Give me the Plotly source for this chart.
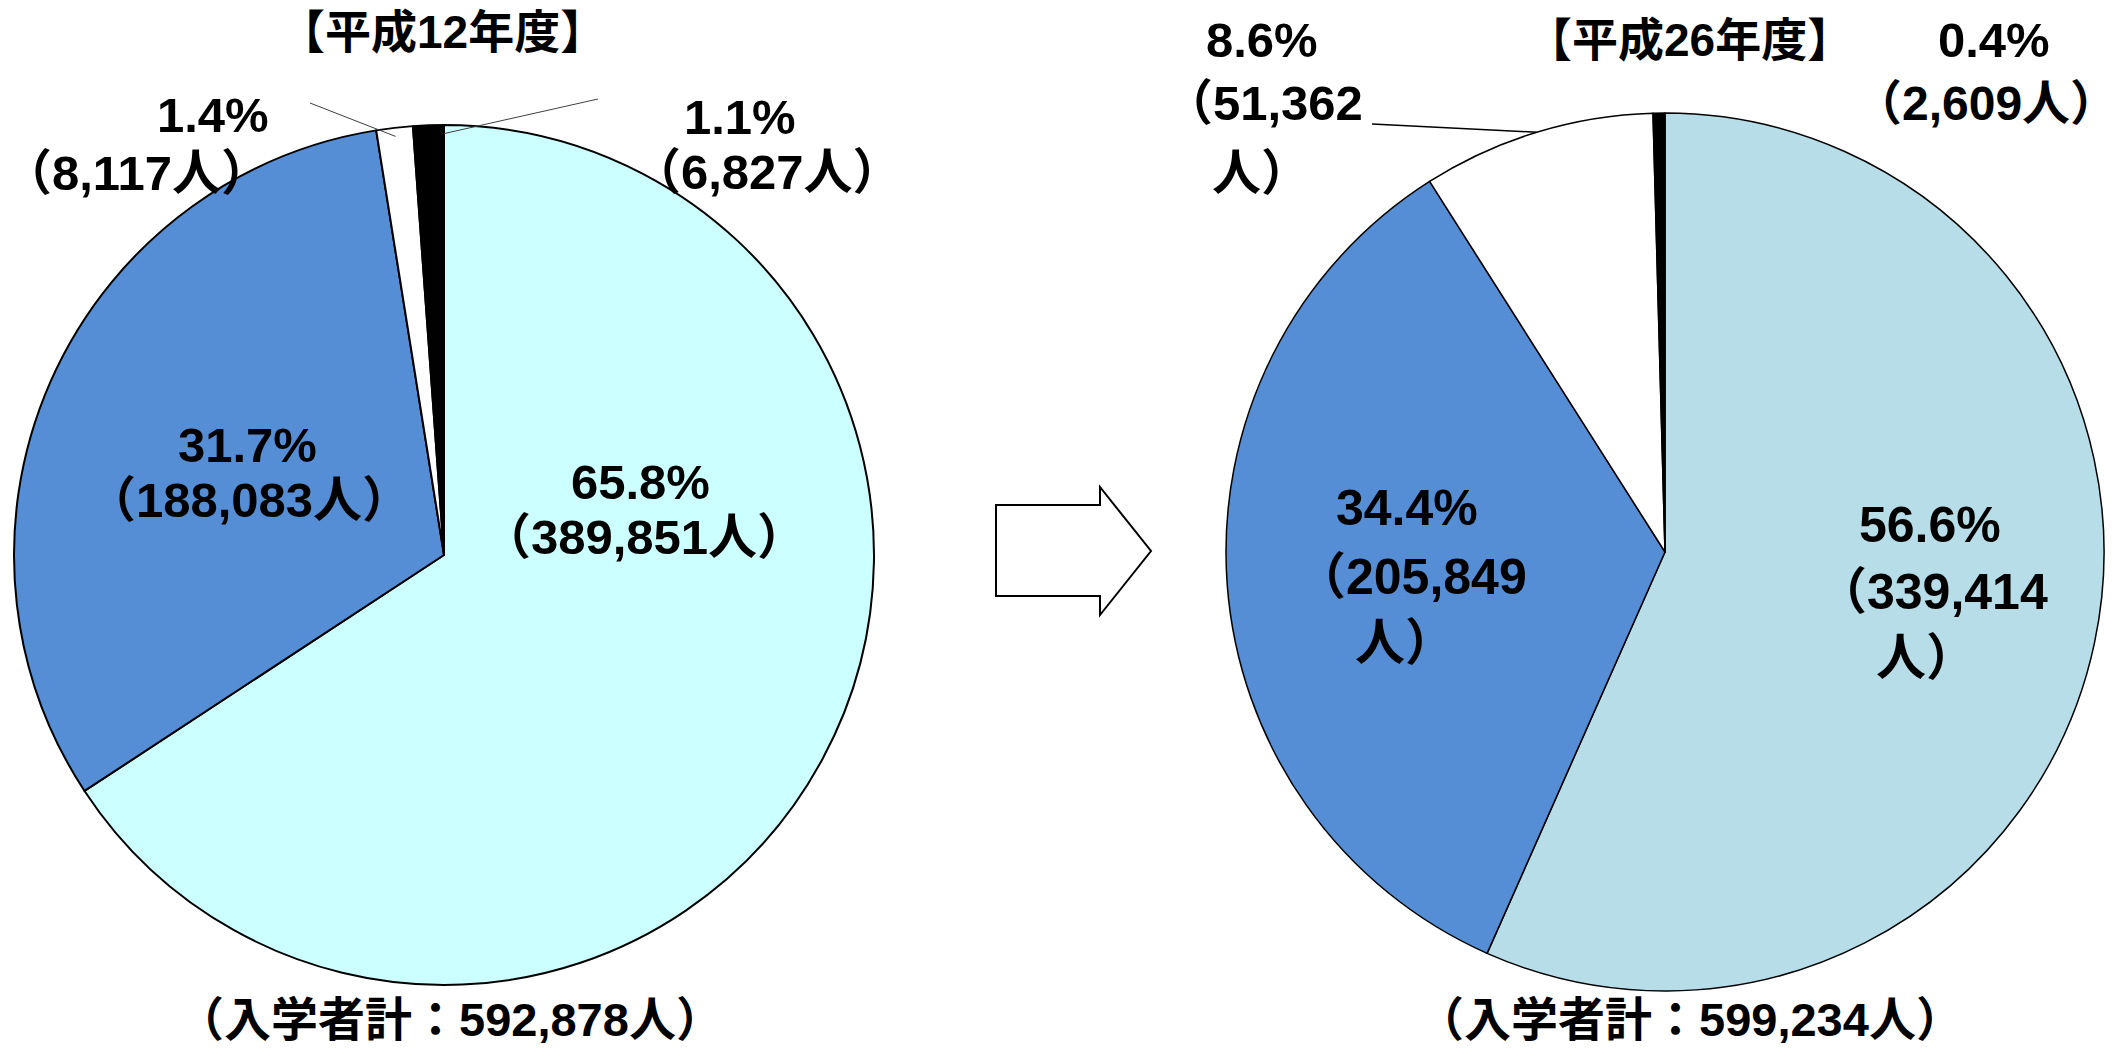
import plotly.graph_objects as go
import math

# ---------------- data ----------------
categories = ["A", "B", "C", "D"]
values_h12 = [389851, 188083, 8117, 6827]
pct_h12 = ["65.8%", "31.7%", "1.4%", "1.1%"]
total_h12 = 592878
values_h26 = [339414, 205849, 51362, 2609]
pct_h26 = ["56.6%", "34.4%", "8.6%", "0.4%"]
total_h26 = 599234
title_h12 = "【平成12年度】"
title_h26 = "【平成26年度】"
colors_h12 = ["#CCFFFF", "#558ED5", "#FFFFFF", "#000000"]
colors_h26 = ["#B7DEE8", "#558ED5", "#FFFFFF", "#000000"]

W, H = 2125, 1049
FONT = "Liberation Sans, Arial, Noto Sans CJK JP, sans-serif"


def px(x):
    return x / W


def py(y):
    return 1 - y / H


# pie geometry (pixel centre / radius)
L_c, L_r = (444, 555), 430
R_c, R_r = (1665, 552), 439


def dom(c, r):
    return dict(x=[px(c[0] - r), px(c[0] + r)], y=[py(c[1] + r), py(c[1] - r)])


fig = go.Figure()
fig.add_trace(go.Pie(
    labels=categories, values=values_h12, sort=False, direction="clockwise",
    rotation=0, textinfo="none", hoverinfo="skip", showlegend=False,
    marker=dict(colors=colors_h12, line=dict(color="#000000", width=2)),
    domain=dom(L_c, L_r)))
fig.add_trace(go.Pie(
    labels=categories, values=values_h26, sort=False, direction="clockwise",
    rotation=0, textinfo="none", hoverinfo="skip", showlegend=False,
    marker=dict(colors=colors_h26, line=dict(color="#000000", width=1.5)),
    domain=dom(R_c, R_r)))

ann = []


def txt(s, x, y, size):
    ann.append(dict(text=f"<b>{s}</b>", x=px(x), y=py(y), xref="paper", yref="paper",
                    xanchor="center", yanchor="middle", showarrow=False,
                    font=dict(family=FONT, size=size, color="#000000")))


def num(v):
    return f"{v:,}"


S = 49
SR = 50
T = 46
B = 47
# left pie labels
txt(title_h12, 442, 32, T)
txt(pct_h12[0], 640, 482, S)
txt(f"（{num(values_h12[0])}人）", 644, 537, S)
txt(pct_h12[1], 247, 445, S)
txt(f"（{num(values_h12[1])}人）", 249, 500, S)
txt(pct_h12[2], 213, 115, S)
txt(f"（{num(values_h12[2])}人）", 136, 173, S)
txt(pct_h12[3], 740, 117, S)
txt(f"（{num(values_h12[3])}人）", 767, 172, S)
txt(f"（入学者計：{num(total_h12)}人）", 450, 1019, B)

# right pie labels
txt(title_h26, 1689, 40, T)
txt(pct_h26[0], 1930, 525, SR)
txt(f"（{num(values_h26[0])}", 1932, 592, SR)
txt("人）", 1926, 658, SR)
txt(pct_h26[1], 1407, 508, SR)
txt(f"（{num(values_h26[1])}", 1411, 577, SR)
txt("人）", 1405, 643, SR)
txt(pct_h26[2], 1262, 40, S)
txt(f"（{num(values_h26[2])}", 1263, 103, S)
txt("人）", 1261, 173, S)
txt(pct_h26[3], 1994, 40, S)
txt(f"（{num(values_h26[3])}人）", 1986, 103, 48)
txt(f"（入学者計：{num(total_h26)}人）", 1690, 1019, B)


def edge_point(values, idx, frac, c, r, k=0.98):
    tot = sum(values)
    start = sum(values[:idx]) / tot
    ang = 2 * math.pi * (start + frac * values[idx] / tot)
    return c[0] + k * r * math.sin(ang), c[1] - k * r * math.cos(ang)


shapes = []


def leader(x0, y0, pt, color, width):
    shapes.append(dict(type="line", xref="paper", yref="paper",
                       x0=px(x0), y0=py(y0), x1=px(pt[0]), y1=py(pt[1]),
                       line=dict(color=color, width=width)))


leader(310, 103, edge_point(values_h12, 2, 0.5, L_c, L_r), "#404040", 1)
leader(598, 99, edge_point(values_h12, 3, 1.0, L_c, L_r), "#404040", 1)
leader(1372, 124, edge_point(values_h26, 2, 0.5, R_c, R_r, 1.0), "#000000", 1.5)

# block arrow between the pies
arrow_pts = [(996, 505), (1100, 505), (1100, 487), (1151, 551), (1100, 615),
             (1100, 596), (996, 596)]
path = "M " + " L ".join(f"{px(x)},{py(y)}" for x, y in arrow_pts) + " Z"
shapes.append(dict(type="path", xref="paper", yref="paper", path=path,
                   fillcolor="#FFFFFF", line=dict(color="#000000", width=2)))

fig.update_layout(width=W, height=H, margin=dict(l=0, r=0, t=0, b=0),
                  paper_bgcolor="#FFFFFF", plot_bgcolor="#FFFFFF",
                  annotations=ann, shapes=shapes)
fig.write_html("out.html", config={"displayModeBar": False},
               post_script="document.body.style.margin='0';"
                           "document.body.style.overflow='hidden';")
